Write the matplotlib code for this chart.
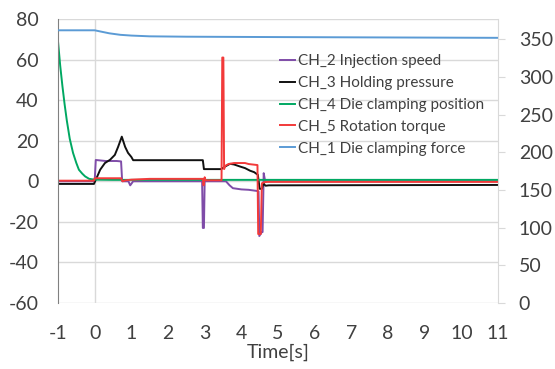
import matplotlib
matplotlib.use('Agg')
import matplotlib.pyplot as plt

plt.rcParams['font.family'] = ['Lato', 'DejaVu Sans']
plt.rcParams['axes.unicode_minus'] = False

# CH_1 Die clamping force (secondary axis)
ch1_t = [-1, 0, 0.15, 0.4, 0.7, 1.0, 1.5, 2.5, 5, 8, 11]
ch1_v = [362, 362, 360.5, 358, 356, 355, 354, 353.5, 353, 352.5, 352]

# CH_2 Injection speed
ch2_t = [-1, 0.0, 0.03, 0.3, 0.6, 0.72, 0.75, 0.92, 0.97, 1.05, 2.93, 2.95, 2.98, 3.0,
         3.58, 3.68, 3.77, 4.0, 4.2, 4.44, 4.47, 4.49, 4.56, 4.58, 4.61, 4.65, 4.7, 11]
ch2_v = [0, 0, 10.5, 10, 10, 9.8, 0, 0, -2, 0, 0, -23, -23, 0,
         0, -2, -3.4, -4, -4.2, -4.8, -5, -27, -25, -25, 4, 0, 0, 0]

# CH_3 Holding pressure
ch3_t = [-1, -0.02, 0.05, 0.15, 0.28, 0.42, 0.55, 0.64, 0.74, 0.83, 0.91, 1.0, 1.05,
         2.95, 2.98, 3.45, 3.55, 3.69, 3.8, 3.96, 4.1, 4.24, 4.35, 4.45, 4.5, 4.56,
         4.6, 4.66, 4.75, 11]
ch3_v = [-1.3, -1.3, 1.5, 5.7, 9, 10.6, 13, 17, 22, 17, 14, 12, 10.4,
         10.4, 6, 6, 7.2, 8.6, 8.3, 7.3, 6.5, 5.2, 4.5, 3.2, -3.7, -3.7,
         -1, -2.2, -2, -1.8]

# CH_4 Die clamping position
ch4_t = [-1, -0.94, -0.88, -0.82, -0.76, -0.68, -0.59, -0.5, -0.43, -0.34, -0.26, -0.15, 0, 0.5, 11]
ch4_v = [69, 57, 47, 38, 30, 21, 14, 9, 5.7, 3.8, 2.4, 1.2, 0.8, 0.7, 0.7]

# CH_5 Rotation torque
ch5_t = [-1, -0.02, 0.0, 0.72, 0.76, 0.85, 1.0, 1.5, 2.95, 2.97, 3.0, 3.02, 3.05,
         3.46, 3.48, 3.51, 3.53, 3.56, 3.65, 3.8, 4.1, 4.2, 4.44, 4.46, 4.53,
         4.56, 4.62, 4.7, 11]
ch5_v = [0.3, 0.3, 1.5, 1.5, 0, 0.5, 0.8, 1.2, 1.2, -2, 2, 0.5, 0.5,
         0.5, 61, 61, 6, 7.6, 8.5, 9, 9, 8.5, 8, -26, -26,
         -1, -0.5, -0.3, -0.3]

left_ticks = [-60, -40, -20, 0, 20, 40, 60, 80]
right_ticks = [0, 50, 100, 150, 200, 250, 300, 350]
x_ticks = list(range(-1, 12))

txt = '#404040'
grid = '#D9D9D9'

fig = plt.figure(figsize=(5.55, 3.69), dpi=100)
ax = fig.add_axes([58 / 555, 1 - 303 / 369, 440 / 555, 284 / 369])
ax2 = ax.twinx()

for y in left_ticks:
    ax.axhline(y, color=grid, lw=1, zorder=0)
ax.axvline(0, color=grid, lw=1, zorder=0)

l2, = ax.plot(ch2_t, ch2_v, color='#7F4CA8', lw=1.4)
l3, = ax.plot(ch3_t, ch3_v, color='#111111', lw=1.4)
l4, = ax.plot(ch4_t, ch4_v, color='#00A862', lw=1.4)
l5, = ax.plot(ch5_t, ch5_v, color='#F23A3A', lw=1.4)
l1, = ax2.plot(ch1_t, ch1_v, color='#5B9BD5', lw=1.4)

ax.set_xlim(-1, 11)
ax.set_ylim(-60, 80)
ax2.set_ylim(0, 377)
ax.set_xticks(x_ticks)
ax.set_yticks(left_ticks)
ax2.set_yticks(right_ticks)

for a in (ax, ax2):
    for s in a.spines.values():
        s.set_visible(False)
ax.spines['left'].set_visible(True)
ax.spines['left'].set_color('#808080')
ax2.spines['right'].set_visible(True)
ax2.spines['right'].set_color(grid)

ax.tick_params(axis='x', length=0, pad=16, labelsize=14, labelcolor=txt)
ax.tick_params(axis='y', length=0, pad=14, labelsize=14, labelcolor=txt)
ax2.tick_params(axis='y', length=5, color=grid, pad=10, labelsize=14, labelcolor=txt)

ax.set_xlabel('Time[s]', fontsize=14, color=txt, labelpad=1)

fig.legend([l2, l3, l4, l5, l1],
           ['CH_2 Injection speed', 'CH_3 Holding pressure', 'CH_4 Die clamping position',
            'CH_5 Rotation torque', 'CH_1 Die clamping force'],
           loc='upper left', bbox_to_anchor=(280 / 555, 1 - 54 / 369), frameon=False,
           fontsize=11, handlelength=1.0, handletextpad=0.2, labelspacing=0.52,
           borderpad=0, borderaxespad=0, labelcolor=txt)

fig.savefig('out.png', dpi=100)
